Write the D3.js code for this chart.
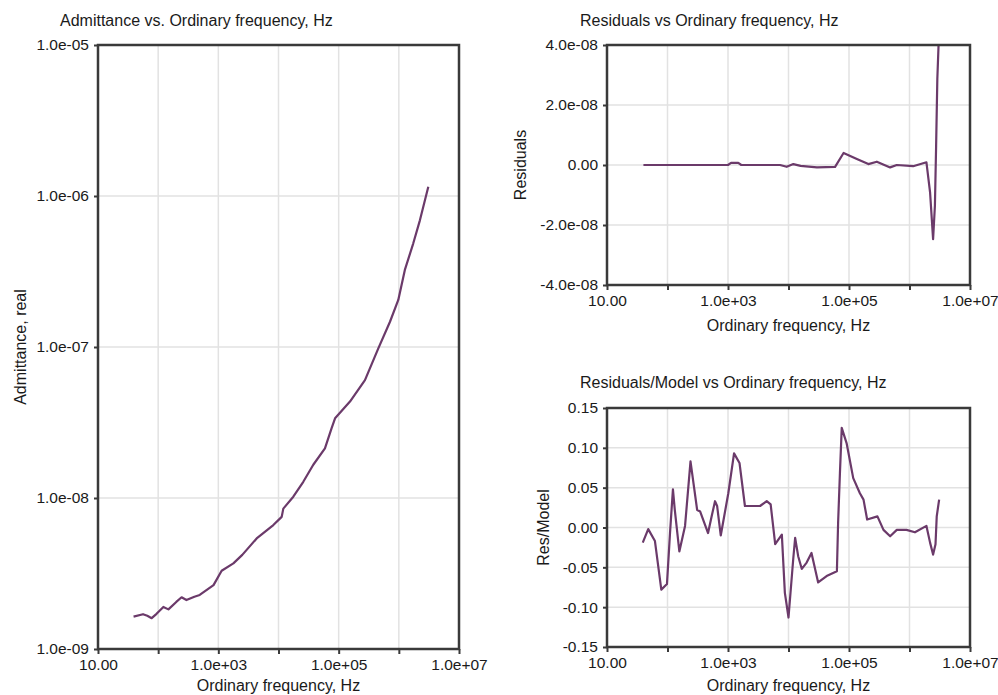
<!DOCTYPE html>
<html>
<head>
<meta charset="utf-8">
<script src="https://cdn.jsdelivr.net/npm/d3@7"></script>
<style>
  body { margin: 0; background: #fff; }
  text { font-family: "Liberation Sans", Arial, sans-serif; fill: #1a1a1a; }
</style>
</head>
<body>
<script>
// Width and Height
const w = 998;
const h = 695;

// Admittance, real (left panel)
const admFreq = [39, 56, 66, 78, 94, 122, 148, 200, 245, 295, 400, 490, 832, 1135, 1778, 2500,
                 4335, 8204, 11298, 12023, 17620, 25823, 37844, 59156, 76384, 87096,
                 154170, 273527, 456037, 712853, 979490, 1258925, 1737801, 2238721, 3090295];
const admittance = [1.64e-9, 1.70e-9, 1.66e-9, 1.60e-9, 1.71e-9, 1.90e-9, 1.83e-9, 2.05e-9, 2.20e-9,
                    2.11e-9, 2.22e-9, 2.28e-9, 2.65e-9, 3.30e-9, 3.69e-9, 4.20e-9,
                    5.40e-9, 6.62e-9, 7.50e-9, 8.50e-9, 1.02e-8, 1.28e-8, 1.66e-8, 2.13e-8, 2.90e-8, 3.37e-8,
                    4.35e-8, 6.04e-8, 9.80e-8, 1.47e-7, 2.05e-7, 3.24e-7, 4.86e-7, 6.90e-7, 1.15e-6];

// Residuals (top right panel)
const resFreq = [40, 1000, 1122, 1479, 1660, 7244, 9333, 12023, 15849, 29512, 58884, 81283,
                 134896, 208930, 288403, 478630, 616595, 1148154, 1905461, 2187762, 2454709,
                 2630268, 2754229, 2884032, 3019952];
const residuals = [0, 0, 0.07e-8, 0.07e-8, 0, 0, -0.06e-8, 0.03e-8, -0.03e-8, -0.08e-8, -0.06e-8, 0.40e-8,
                   0.20e-8, 0.03e-8, 0.11e-8, -0.08e-8, 0, -0.04e-8, 0.09e-8, -0.91e-8, -2.47e-8,
                   -1.36e-8, 0.64e-8, 2.87e-8, 3.98e-8];

// Residuals/Model (bottom right panel)
const ratioFreq = [39, 48, 62, 79, 98, 110, 123, 132, 157, 195, 240, 309, 347, 468, 537, 610, 661,
                   759, 1012, 1259, 1549, 1905, 2630, 3388, 4365, 5070, 6026, 7762, 8710, 10000,
                   12023, 12882, 14454, 16596, 19953, 23988, 30903, 42658, 63096, 66069, 70795,
                   75858, 91201, 117490, 151356, 173780, 199526, 295121, 371535, 478630, 616595,
                   891251, 1230269, 1905461, 2187762, 2454709, 2691535, 2818383, 3090295];
const resModel = [-0.019, -0.002, -0.017, -0.078, -0.071, -0.007, 0.048, 0.022, -0.030, 0.002, 0.083,
                  0.022, 0.020, -0.007, 0.014, 0.033, 0.027, -0.010, 0.043, 0.093, 0.081, 0.027,
                  0.027, 0.027, 0.033, 0.029, -0.021, -0.009, -0.082, -0.113, -0.038, -0.013,
                  -0.036, -0.052, -0.044, -0.032, -0.069, -0.061, -0.055, 0.006, 0.068, 0.125,
                  0.106, 0.062, 0.043, 0.035, 0.010, 0.014, -0.003, -0.011, -0.003, -0.003,
                  -0.006, 0.002, -0.019, -0.034, -0.021, 0.014, 0.035];

// Axis ticks
const freqTicks = [1e1, 1e2, 1e3, 1e4, 1e5, 1e6, 1e7];
const freqLabels = [1e1, 1e3, 1e5, 1e7];
const admTicks = [1e-9, 1e-8, 1e-7, 1e-6, 1e-5];
const resTicks = [-4e-8, -2e-8, 0, 2e-8, 4e-8];
const ratioTicks = [-0.15, -0.10, -0.05, 0, 0.05, 0.10, 0.15];

const lineColor = "#6b3a6a";
const fontSize = "15.5px";

// tick label like 1.0e-08 / 10.00 / 0.00
function sci(v) {
    if (v === 0) return "0.00";
    if (v === 10) return "10.00";
    let s = d3.format(".1e")(v).replace("−", "-");
    return s.replace(/e([+-])(\d)$/, "e$10$2");
}
function fixed(v) {
    return d3.format(".2f")(v).replace("−", "-");
}

// Create SVG
const svg = d3.select("body")
                .append("svg")
                .attr("width", w)
                .attr("height", h);

function panel(opt) {
    const g = svg.append("g");
    const x = d3.scaleLog().domain([10, 1e7]).range([opt.x0, opt.x1]);
    const y = opt.y;

    // grid
    g.selectAll(".vg").data(freqTicks.slice(1, -1)).enter().append("line")
        .attr("x1", d => x(d)).attr("x2", d => x(d))
        .attr("y1", opt.y0).attr("y2", opt.y1)
        .attr("stroke", "#e2e2e2").attr("stroke-width", 1.5);
    g.selectAll(".hg").data(opt.yTicks.slice(1, -1)).enter().append("line")
        .attr("x1", opt.x0).attr("x2", opt.x1)
        .attr("y1", d => y(d)).attr("y2", d => y(d))
        .attr("stroke", "#e2e2e2").attr("stroke-width", 1.5);

    // data line
    const line = d3.line().x(d => x(d[0])).y(d => y(d[1]));
    g.append("path")
        .datum(d3.zip(opt.freq, opt.vals))
        .attr("d", line)
        .attr("fill", "none")
        .attr("stroke", lineColor)
        .attr("stroke-width", 2.2)
        .attr("stroke-linejoin", "round");

    // frame
    g.append("rect")
        .attr("x", opt.x0).attr("y", opt.y0)
        .attr("width", opt.x1 - opt.x0).attr("height", opt.y1 - opt.y0)
        .attr("fill", "none").attr("stroke", "#3a3a3a").attr("stroke-width", 2.5);

    // axes
    const xAxis = d3.axisBottom(x).tickValues(freqTicks).tickSize(5)
        .tickFormat(d => freqLabels.includes(d) ? sci(d) : "");
    const gx = g.append("g").attr("transform", `translate(0,${opt.y1})`).call(xAxis);
    const yAxis = d3.axisLeft(y).tickValues(opt.yTicks).tickSize(4).tickFormat(opt.fmt);
    const gy = g.append("g").attr("transform", `translate(${opt.x0},0)`).call(yAxis);
    [gx, gy].forEach(a => {
        a.select(".domain").remove();
        a.selectAll(".tick line").attr("stroke", "#3a3a3a").attr("stroke-width", 2);
        a.selectAll(".tick text").style("font-family", "Liberation Sans, Arial, sans-serif")
            .style("font-size", fontSize).attr("fill", "#1a1a1a");
    });
    gx.selectAll(".tick text").attr("y", 10);
    gy.selectAll(".tick text").attr("x", -9);

    // titles
    g.append("text").attr("x", opt.titleX).attr("y", opt.titleY)
        .style("font-size", "16px").text(opt.title);
    g.append("text").attr("x", (opt.x0 + opt.x1) / 2).attr("y", opt.xLabelY)
        .attr("text-anchor", "middle").style("font-size", "16px")
        .text("Ordinary frequency, Hz");
    g.append("text")
        .attr("transform", `translate(${opt.yLabelX},${(opt.y0 + opt.y1) / 2}) rotate(-90)`)
        .attr("text-anchor", "middle").attr("dy", "0.35em")
        .style("font-size", "16px").text(opt.yLabel);
}

// Admittance
panel({
    x0: 98, x1: 459, y0: 45, y1: 649,
    y: d3.scaleLog().domain([1e-9, 1e-5]).range([649, 45]),
    yTicks: admTicks, fmt: sci,
    freq: admFreq, vals: admittance,
    title: "Admittance vs. Ordinary frequency, Hz", titleX: 60, titleY: 26,
    yLabel: "Admittance, real", yLabelX: 20, xLabelY: 691
});

// Residuals
panel({
    x0: 607, x1: 970, y0: 45, y1: 285,
    y: d3.scaleLinear().domain([-4e-8, 4e-8]).range([285, 45]),
    yTicks: resTicks, fmt: sci,
    freq: resFreq, vals: residuals,
    title: "Residuals vs Ordinary frequency, Hz", titleX: 580, titleY: 26,
    yLabel: "Residuals", yLabelX: 520, xLabelY: 331
});

// Residuals/Model
panel({
    x0: 607, x1: 970, y0: 408, y1: 647,
    y: d3.scaleLinear().domain([-0.15, 0.15]).range([647, 408]),
    yTicks: ratioTicks, fmt: fixed,
    freq: ratioFreq, vals: resModel,
    title: "Residuals/Model vs Ordinary frequency, Hz", titleX: 580, titleY: 388,
    yLabel: "Res/Model", yLabelX: 543, xLabelY: 691
});
</script>
</body>
</html>
